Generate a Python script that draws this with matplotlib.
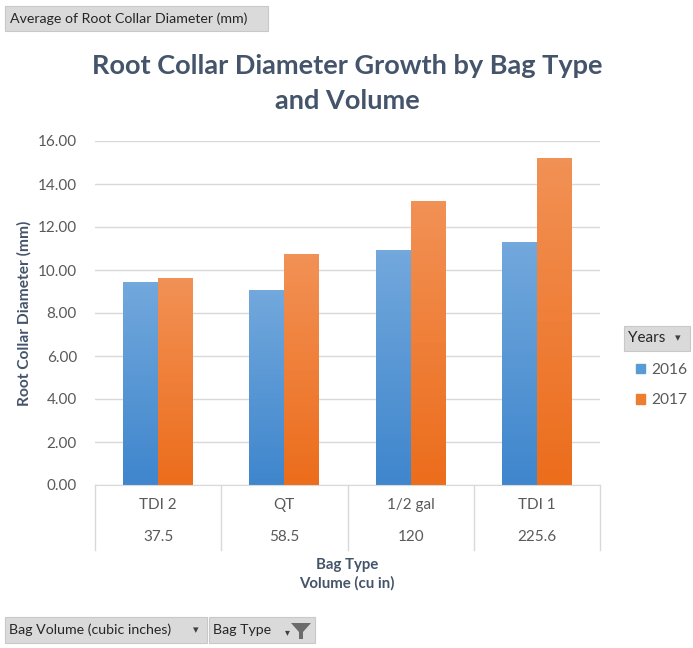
import numpy as np
import matplotlib
matplotlib.use("Agg")
import matplotlib.pyplot as plt
from matplotlib.patches import Rectangle, Patch, Polygon
from matplotlib.colors import LinearSegmentedColormap
import matplotlib.transforms as mtransforms

# data
bag_types = ["TDI 2", "QT", "1/2 gal", "TDI 1"]
volumes = ["37.5", "58.5", "120", "225.6"]
years = ["2016", "2017"]
rcd_2016 = [9.46, 9.09, 10.95, 11.32]
rcd_2017 = [9.62, 10.74, 13.19, 15.22]

plt.rcParams["font.family"] = ["Lato", "DejaVu Sans"]

TITLE_C = "#44546a"
TEXT_C = "#595959"
GRID_C = "#d9d9d9"

fig = plt.figure(figsize=(6.93, 6.48), dpi=100)
W, H = 693, 648
ax = fig.add_axes([95 / W, 1 - 485 / H, 505 / W, 344 / H])

x = np.arange(len(bag_types))
bw = 0.277
b1 = ax.bar(x - bw / 2, rcd_2016, bw, color="#5b9bd5", zorder=2)
b2 = ax.bar(x + bw / 2, rcd_2017, bw, color="#ed7d31", zorder=2)


def shade(bars, top, bottom):
    # vertical gradient like the Excel fill
    cmap = LinearSegmentedColormap.from_list("g", [bottom, top])
    grad = np.linspace(0, 1, 64).reshape(-1, 1)
    for b in bars:
        x0, y0 = b.get_x(), b.get_y()
        im = ax.imshow(grad, cmap=cmap, origin="lower", aspect="auto",
                       extent=(x0, x0 + b.get_width(), y0, y0 + b.get_height()),
                       zorder=2.5)
        im.set_clip_path(b)


shade(b1, "#72a8dc", "#3f86cd")
shade(b2, "#f29155", "#ec6d1c")

ax.set_xlim(-0.5, len(bag_types) - 0.5)
ax.set_ylim(0, 16)
ax.set_yticks(np.arange(0, 17, 2))
ax.set_yticklabels([f"{v:.2f}" for v in np.arange(0, 17, 2)])
ax.tick_params(axis="y", length=0, labelsize=11, labelcolor=TEXT_C, pad=13)
ax.set_xticks([])
ax.grid(axis="y", color=GRID_C, lw=1, zorder=0)
for s in ["top", "right", "left"]:
    ax.spines[s].set_visible(False)
ax.spines["bottom"].set_color(GRID_C)

ax.set_ylabel("Root Collar Diameter (mm)", fontsize=11.2, fontweight="bold",
              color=TITLE_C)
ax.yaxis.set_label_coords((32 - 95) / 505, 0.5)

# category table under the axis
tr = mtransforms.blended_transform_factory(ax.transData, ax.transAxes)
for xb in np.arange(-0.5, len(bag_types), 1.0):
    ax.plot([xb, xb], [0, -65 / 344], color=GRID_C, lw=1, transform=tr,
            clip_on=False)
for i, (bt, vol) in enumerate(zip(bag_types, volumes)):
    ax.text(i, -20 / 344, bt, transform=tr, ha="center", va="center",
            fontsize=11, color=TEXT_C)
    ax.text(i, -52 / 344, vol, transform=tr, ha="center", va="center",
            fontsize=11, color=TEXT_C)

fig.text(347 / W, 1 - 565 / H, "Bag Type", ha="center", va="center",
         fontsize=10.8, fontweight="bold", color=TITLE_C)
fig.text(347 / W, 1 - 583 / H, "Volume (cu in)", ha="center", va="center",
         fontsize=10.8, fontweight="bold", color=TITLE_C)

fig.text(347 / W, 1 - 66 / H, "Root Collar Diameter Growth by Bag Type",
         ha="center", va="center", fontsize=19.5, fontweight="bold", color=TITLE_C)
fig.text(347 / W, 1 - 101 / H, "and Volume",
         ha="center", va="center", fontsize=19.5, fontweight="bold", color=TITLE_C)


def button(x0, y0, x1, y1):
    fig.patches.append(Rectangle((x0 / W, 1 - y1 / H), (x1 - x0) / W, (y1 - y0) / H,
                                 transform=fig.transFigure, facecolor="#dadada",
                                 edgecolor="#c8c8c8", lw=0.8))


# pivot field buttons
button(5, 6, 268, 31)
fig.text(10 / W, 1 - 18.5 / H, "Average of Root Collar Diameter (mm)",
         ha="left", va="center", fontsize=10.2, color="#262626")

button(5, 617, 207, 643)
fig.text(9 / W, 1 - 630 / H, "Bag Volume (cubic inches)",
         ha="left", va="center", fontsize=10.2, color="#262626")
fig.text(196 / W, 1 - 630 / H, "▾", ha="center", va="center",
         fontsize=8, color="#404040", family="DejaVu Sans")

button(209, 617, 315, 643)
fig.text(213 / W, 1 - 630 / H, "Bag Type", ha="left", va="center",
         fontsize=10.2, color="#262626")
fig.text(287 / W, 1 - 632 / H, "▾", ha="center", va="center",
         fontsize=7, color="#404040", family="DejaVu Sans")
funnel = [(291, 623), (311, 623), (303, 632), (303, 639), (299, 639), (299, 632)]
fig.patches.append(Polygon([(px / W, 1 - py / H) for px, py in funnel],
                           closed=True, transform=fig.transFigure,
                           facecolor="#6b6b6b", edgecolor="none"))

# legend
button(624, 326, 690, 351)
fig.text(628 / W, 1 - 338.5 / H, "Years", ha="left", va="center",
         fontsize=11, color="#262626")
fig.text(678 / W, 1 - 338.5 / H, "▾", ha="center", va="center",
         fontsize=8, color="#404040", family="DejaVu Sans")
handles = [Patch(color="#5b9bd5"), Patch(color="#ed7d31")]
fig.legend(handles, years, loc="upper left", bbox_to_anchor=(622 / W, 1 - 349 / H),
           frameon=False, fontsize=11.2, labelcolor=TEXT_C, handlelength=0.6,
           handleheight=0.6, handletextpad=0.4, labelspacing=1.05)

fig.savefig("out.png", dpi=100)
